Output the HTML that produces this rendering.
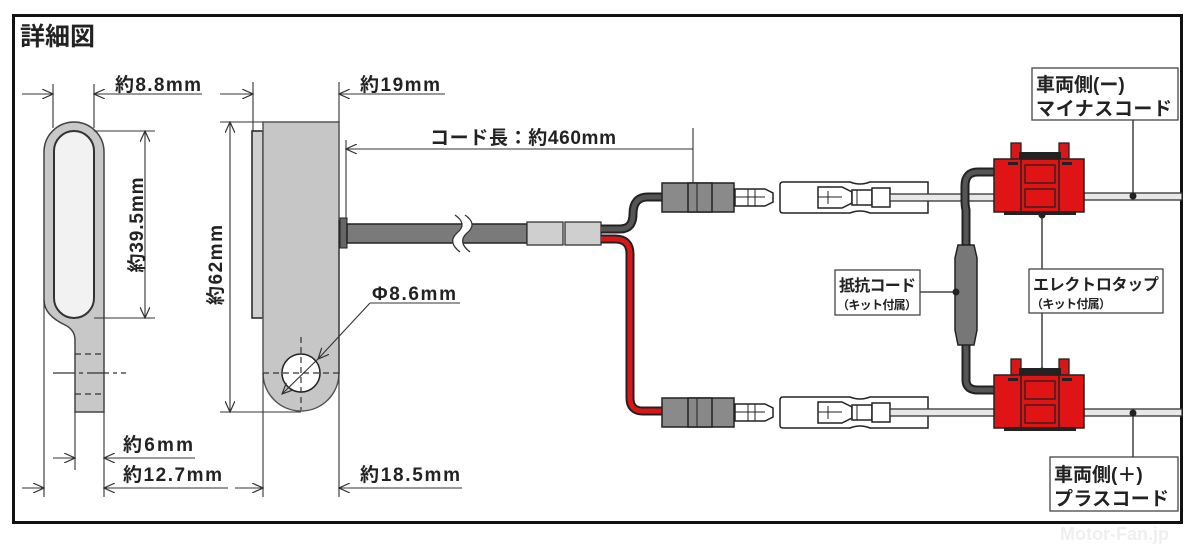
<!DOCTYPE html>
<html><head><meta charset="utf-8"><style>
html,body{margin:0;padding:0;background:#fff;width:1200px;height:547px;overflow:hidden}
svg{display:block}
text{font-family:"Liberation Sans","Noto Sans CJK JP",sans-serif;font-weight:bold;fill:#222}
</style></head><body>
<svg width="1200" height="547" viewBox="0 0 1200 547" xmlns="http://www.w3.org/2000/svg">
<defs>
<marker id="a" viewBox="0 0 12 10" refX="11" refY="5" markerWidth="12" markerHeight="10" markerUnits="userSpaceOnUse" orient="auto-start-reverse"><path d="M0,0 L11,5 L0,10" fill="none" stroke="#333" stroke-width="1.2"/></marker>
</defs>
<rect width="1200" height="547" fill="#fff"/>
<rect x="13.5" y="15.5" width="1168" height="507" fill="none" stroke="#111" stroke-width="3"/>
<text x="20" y="45" font-size="25">詳細図</text>

<path d="M44,152 A30,30 0 0 1 104,152 L104,412 L75,412 L75,340 Q75,330 65,325 Q44,315 44,300 Z" fill="#c8c8c8" stroke="#444" stroke-width="1.5"/>
<rect x="54" y="131" width="40" height="187" rx="20" fill="#f2f2f2" stroke="#333" stroke-width="2"/>
<g stroke="#333" stroke-width="1.2" stroke-dasharray="6,4"><line x1="75" y1="354" x2="104" y2="354"/><line x1="75" y1="394" x2="104" y2="394"/></g>
<line x1="53" y1="373" x2="126" y2="373" stroke="#333" stroke-width="1.2" stroke-dasharray="22,4,4,4"/>
<g stroke="#333" stroke-width="1.1" fill="none">
<line x1="53" y1="84" x2="53" y2="128"/><line x1="94" y1="84" x2="94" y2="128"/>
<line x1="22" y1="94" x2="53" y2="94" marker-end="url(#a)"/><line x1="202" y1="94" x2="94" y2="94" marker-end="url(#a)"/>
<line x1="94" y1="131" x2="155" y2="131"/><line x1="94" y1="318" x2="155" y2="318"/>
<line x1="145" y1="131" x2="145" y2="318" marker-start="url(#a)" marker-end="url(#a)"/>
<line x1="75" y1="412" x2="75" y2="470"/><line x1="104" y1="412" x2="104" y2="497"/><line x1="44" y1="300" x2="44" y2="497"/>
<line x1="53" y1="458" x2="75" y2="458" marker-end="url(#a)"/><line x1="195" y1="458" x2="104" y2="458" marker-end="url(#a)"/>
<line x1="22" y1="488" x2="44" y2="488" marker-end="url(#a)"/><line x1="228" y1="488" x2="104" y2="488" marker-end="url(#a)"/>
</g>
<text x="115" y="91" font-size="19" textLength="86">約8.8mm</text>
<text transform="translate(143,225) rotate(-90)" x="0" y="0" font-size="19" text-anchor="middle" textLength="95">約39.5mm</text>
<text x="123" y="451" font-size="19" textLength="70">約6mm</text>
<text x="123" y="481" font-size="19" textLength="99">約12.7mm</text>

<rect x="252" y="131" width="11" height="187" fill="#cfcfcf" stroke="#222" stroke-width="1.5"/>
<path d="M263,122 L339,122 L339,373 A38,38 0 0 1 263,373 Z" fill="#c6c6c6" stroke="#555" stroke-width="1.5"/>
<circle cx="301" cy="373" r="19" fill="#fff" stroke="#222" stroke-width="1.5"/>
<g stroke="#333" stroke-width="1.2" stroke-dasharray="6,4"><line x1="301" y1="337" x2="301" y2="410"/><line x1="263" y1="373" x2="339" y2="373"/></g>
<g stroke="#333" stroke-width="1.1" fill="none">
<line x1="253" y1="82" x2="253" y2="131"/><line x1="339" y1="82" x2="339" y2="122"/>
<line x1="220" y1="94" x2="253" y2="94" marker-end="url(#a)"/><line x1="445" y1="94" x2="339" y2="94" marker-end="url(#a)"/>
<line x1="220" y1="122" x2="263" y2="122"/><line x1="220" y1="412" x2="301" y2="412"/>
<line x1="230" y1="122" x2="230" y2="412" marker-start="url(#a)" marker-end="url(#a)"/>
<line x1="263" y1="373" x2="263" y2="497"/><line x1="339" y1="220" x2="339" y2="497"/>
<line x1="235" y1="488" x2="263" y2="488" marker-end="url(#a)"/><line x1="462" y1="488" x2="339" y2="488" marker-end="url(#a)"/>
<line x1="460" y1="303" x2="370" y2="303"/>
<line x1="370" y1="303" x2="318" y2="359" marker-end="url(#a)"/>
<line x1="320" y1="357" x2="282" y2="394" marker-end="url(#a)"/>
<line x1="346" y1="140" x2="346" y2="222"/>
<line x1="693" y1="128" x2="693" y2="190"/>
<line x1="693" y1="149" x2="346" y2="149" marker-end="url(#a)"/>
</g>
<text transform="translate(222,265) rotate(-90)" font-size="19" text-anchor="middle" textLength="80">約62mm</text>
<text x="360" y="91" font-size="19" textLength="80">約19mm</text>
<text x="372" y="300" font-size="19" textLength="84">Φ8.6mm</text>
<text x="360" y="481" font-size="19" textLength="100">約18.5mm</text>
<text x="430" y="144" font-size="19" textLength="186">コード長：約460mm</text>

<rect x="340" y="218" width="7" height="30" fill="#666" stroke="#222"/>
<rect x="347" y="224" width="180" height="19" fill="#7a7a7a" stroke="#222" stroke-width="1.5"/>
<path d="M455,215 Q468,224 457,233 Q447,242 460,252 L470,252 Q457,242 467,233 Q478,224 465,215 Z" fill="#fff"/>
<path d="M455,215 Q468,224 457,233 Q447,242 460,252 M465,215 Q478,224 467,233 Q457,242 470,252" fill="none" stroke="#333" stroke-width="1.3"/>
<rect x="527" y="222" width="36" height="23" fill="#cfcfcf" stroke="#333" stroke-width="1.3"/>
<rect x="565" y="222" width="36" height="23" fill="#cfcfcf" stroke="#333" stroke-width="1.3"/>
<path d="M601,229 L620,229 Q633,229 633,214 Q633,197 648,197 L664,197" fill="none" stroke="#222" stroke-width="9"/>
<path d="M601,229 L620,229 Q633,229 633,214 Q633,197 648,197 L664,197" fill="none" stroke="#555" stroke-width="5"/>
<path d="M601,239 L615,239 Q630,239 630,254 L630,398 Q630,411 643,411 L664,411" fill="none" stroke="#222" stroke-width="9"/>
<path d="M601,239 L615,239 Q630,239 630,254 L630,398 Q630,411 643,411 L664,411" fill="none" stroke="#d81818" stroke-width="5"/>

<g id="c1">
<rect x="662" y="183" width="72" height="29" fill="#8a8a8a" stroke="#222" stroke-width="1.5"/>
<rect x="688" y="183" width="24" height="29" fill="#888" stroke="#222" stroke-width="1.5"/>
<line x1="697" y1="183" x2="697" y2="212" stroke="#222"/>
<path d="M735,189 L765,189 L773,193 L773,202 L765,206 L735,206 Z" fill="#fff" stroke="#222" stroke-width="1.5"/>
<line x1="748" y1="189" x2="748" y2="206" stroke="#222"/><line x1="755" y1="189" x2="755" y2="206" stroke="#222"/><line x1="735" y1="197" x2="765" y2="197" stroke="#222"/>
<path d="M783,182 L850,182 Q860,186 870,182 L928,182 L928,213 L870,213 Q860,209 850,213 L783,213 Q780,213 780,210 L780,185 Q780,182 783,182 Z" fill="#fff" stroke="#222" stroke-width="1.5"/>
<path d="M818,187 L842,187 L852,192 L852,203 L842,208 L818,208 Z" fill="#fff" stroke="#222" stroke-width="1.5"/>
<line x1="828" y1="191" x2="828" y2="204" stroke="#222"/><line x1="818" y1="197" x2="842" y2="197" stroke="#222"/>
<rect x="852" y="190" width="20" height="15" fill="#fff" stroke="#222" stroke-width="1.5"/>
<rect x="872" y="188" width="18" height="19" fill="#fff" stroke="#222" stroke-width="1.5"/>
<line x1="857" y1="190" x2="857" y2="205" stroke="#222"/>
<rect x="890" y="194" width="105" height="7" fill="#e8e8e8" stroke="#333" stroke-width="1.3"/>
</g>
<use href="#c1" transform="translate(0,215)"/>

<rect x="1084" y="193" width="98" height="7" fill="#e8e8e8" stroke="#333" stroke-width="1.3"/>
<rect x="1084" y="409" width="98" height="7" fill="#e8e8e8" stroke="#333" stroke-width="1.3"/>

<path d="M996,172 L978,172 Q965,172 965,186 L965,200 Q965,206 966,210 L966,380 Q966,390 978,390 L996,390" fill="none" stroke="#222" stroke-width="9"/>
<path d="M996,172 L978,172 Q965,172 965,186 L965,200 Q965,206 966,210 L966,380 Q966,390 978,390 L996,390" fill="none" stroke="#555" stroke-width="5"/>
<path d="M958,245 L974,245 L977,258 L977,330 L974,345 L958,345 L955,330 L955,258 Z" fill="#777" stroke="#222" stroke-width="1.5"/>

<g id="t1">
<rect x="1011" y="143" width="10" height="18" fill="#d81818" stroke="#222" stroke-width="1.3"/>
<rect x="1059" y="143" width="10" height="18" fill="#d81818" stroke="#222" stroke-width="1.3"/>
<rect x="1019" y="152" width="42" height="8" fill="#222"/>
<rect x="994" y="159" width="90" height="53" fill="#e01414" stroke="#222" stroke-width="1.5"/>
<rect x="1008" y="162" width="10" height="3" fill="#222"/>
<rect x="1062" y="162" width="10" height="3" fill="#222"/>
<rect x="1021" y="159" width="38" height="53" fill="none" stroke="#222" stroke-width="1.5"/>
<rect x="1025" y="165" width="30" height="18" fill="none" stroke="#222" stroke-width="1.3"/>
<rect x="1025" y="189" width="30" height="18" fill="none" stroke="#222" stroke-width="1.3"/>
<rect x="1004" y="211" width="72" height="4" fill="#222"/>
</g>
<use href="#t1" transform="translate(0,216)"/>

<g stroke="#222" stroke-width="1.3">
<line x1="1133" y1="120" x2="1133" y2="197"/>
<line x1="1133" y1="413" x2="1133" y2="457"/>
<line x1="1042" y1="214" x2="1042" y2="372"/>
<line x1="920" y1="292" x2="958" y2="292"/>
</g>
<g fill="#222"><circle cx="1133" cy="196" r="3.5"/><circle cx="1133" cy="413" r="3.5"/><circle cx="1042" cy="215" r="3.5"/><circle cx="1042" cy="371" r="3.5"/><circle cx="956" cy="292" r="3.5"/></g>

<rect x="1032" y="68" width="146" height="52" fill="#fff" stroke="#444" stroke-width="1.3"/>
<text x="1036" y="91" font-size="19">車両側(ー)</text>
<text x="1036" y="115" font-size="19" textLength="136">マイナスコード</text>
<rect x="1050" y="457" width="128" height="54" fill="#fff" stroke="#444" stroke-width="1.3"/>
<text x="1054" y="481" font-size="19">車両側(＋)</text>
<text x="1054" y="505" font-size="19" textLength="115">プラスコード</text>
<rect x="835" y="270" width="85" height="45" fill="#fff" stroke="#444" stroke-width="1.3"/>
<text x="839" y="291" font-size="16" textLength="77">抵抗コード</text>
<text x="837" y="309" font-size="12" textLength="80">（キット付属）</text>
<rect x="1029" y="269" width="134" height="44" fill="#fff" stroke="#444" stroke-width="1.3"/>
<text x="1033" y="290" font-size="16" textLength="126">エレクトロタップ</text>
<text x="1031" y="308" font-size="12" textLength="80">（キット付属）</text>
<text x="1060" y="540" font-size="18" style="fill:#efefef">Motor-Fan.jp</text>
</svg>
</body></html>
